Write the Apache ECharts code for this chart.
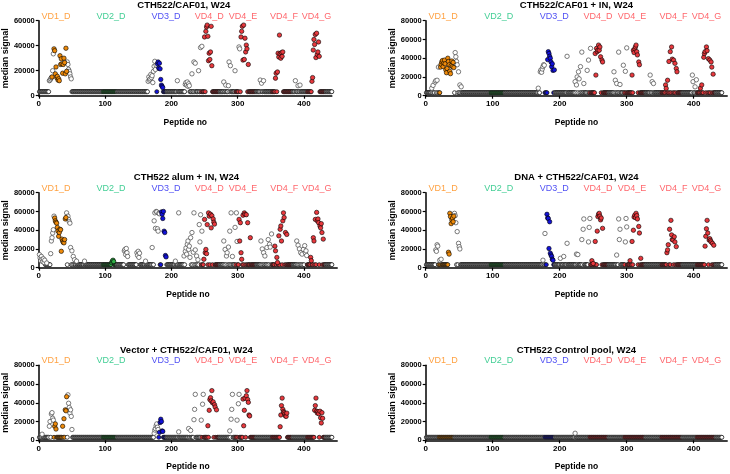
<!DOCTYPE html>
<html><head><meta charset="utf-8">
<script src="https://cdn.jsdelivr.net/npm/echarts/dist/echarts.min.js"></script>
<style>html,body{margin:0;padding:0;background:#fff}#c{width:730px;height:474px}</style>
</head><body><div id="c"></div>
<script>
// ---------- DATA ----------
const peptideCount = 442;
const baselineSignal = 3200;
const regionNames = ['VD1_D','VD2_D','VD3_D','VD4_D','VD4_E','VD4_F','VD4_G'];
const regionStart = [20, 97, 178, 245, 297, 352, 405];
const regionEnd   = [42, 117, 192, 272, 327, 382, 432];
const regionLabelX = [26, 109, 192, 257, 308, 370, 419];
const panelTitles = ['CTH522/CAF01, W24','CTH522/CAF01 + IN, W24','CTH522 alum + IN, W24','DNA + CTH522/CAF01, W24','Vector + CTH522/CAF01, W24','CTH522 Control pool, W24'];
const yMaxes = [60000, 80000, 80000, 80000, 80000, 80000];
const xMaxes = [442, 450, 450, 450, 450, 450];
const xTicks = [0, 100, 200, 300, 400];
const yTickStep = 20000;

const p1White = [[16,12000],[17,12500],[18,13500],[19,14500],[21,20000],[22,33500],[43,27000],[44,25000],[45,21000],[46,19500],[47,17500],[48,15000],[49,13500],
[165,11500],[166,15000],[167,12500],[168,13500],[169,17000],[170,14500],[171,16000],[172,10500],[173,19500],[174,23500],[175,27500],[176,21000],[177,24500],
[209,12000],[221,9000],[222,10500],[223,8500],[224,11000],[225,7500],[226,9500],[227,8000],
[231,17500],[234,27000],[236,26000],[241,20000],[244,38500],[246,39500],
[279,11000],[282,8500],[286,8000],[287,27000],[289,24000],[296,20000],[302,39000],[303,37500],
[334,12500],[336,10000],[339,12000],[387,12000],[391,8000],[394,8500]];
const p1Hit = [[20,15000],[23,37500],[24,36000],[25,17500],[26,23000],[27,14500],[28,15500],[29,12500],[30,13500],[31,12000],[32,32000],[33,25000],[34,29500],[35,25500],[36,18000],[37,25000],[38,30000],[39,26500],[40,17500],[41,38000],[42,19500],
[179,25500],[180,27000],[181,22000],[182,26000],[183,21500],[184,13000],[185,8500],[186,7500],[187,6500],
[250,47000],[252,51500],[253,55000],[254,56500],[255,47500],[256,28000],[257,34000],[258,29000],[259,35000],[260,55500],[261,24000],
[305,47000],[306,51500],[307,55500],[308,28500],[309,56500],[310,29000],[311,46000],[312,35000],[313,40500],[314,37500],[316,25000],
[357,14000],[358,18000],[360,19000],[361,34000],[362,31000],[363,48500],[364,33500],[365,30000],[366,34500],[367,31500],[368,35000],
[412,11500],[413,14500],[414,36500],[415,45000],[416,41000],[417,49000],[418,30500],[419,50000],[420,33000],[421,35000],[422,43000],[423,31500]];

const p2White = [[9,8000],[11,11000],[14,14500],[15,16000],[17,16500],[19,30500],[44,46000],[45,41500],[46,36500],[47,33000],[49,25500],[51,11500],[53,9500],
[168,8000],[171,25500],[172,27500],[173,25000],[174,28500],[175,31000],[176,33000],[177,32500],
[211,42000],[223,15000],[225,11500],[226,20000],[228,25500],[229,18000],[231,31000],[233,46500],[236,13000],[241,27000],[243,38000],[246,50500],
[281,25500],[283,16500],[285,13000],[288,46500],[290,12000],[295,32500],[298,26000],[300,51000],
[335,22000],[338,15000],[340,13000],[398,22000],[399,15000],[402,9500],[404,17000]];
const p2Hit = [[22,30500],[23,33500],[24,36000],[25,37500],[26,31000],[27,35000],[28,38000],[29,34000],[30,27500],[31,24500],[32,29000],[33,40000],[34,36500],[35,33000],[36,26000],[37,23500],[38,32000],[39,37000],[40,31000],[41,35500],[42,30000],
[182,38500],[183,47000],[184,45000],[185,42000],[186,40000],[187,36000],[188,31000],[189,34000],[190,27000],[192,27500],
[253,45000],[254,22000],[255,50500],[256,47000],[257,48500],[258,54000],[259,48500],[260,52000],[261,41500],[263,38000],[264,36000],
[308,22000],[310,48500],[311,46000],[312,50000],[313,52000],[314,54000],[315,47000],[316,43500],[318,36000],[319,33000],
[358,11500],[359,7800],[361,16500],[363,36500],[365,47000],[367,52000],[368,39000],[370,38000],[372,34500],[374,29000],[375,25500],
[410,8000],[412,11500],[415,41000],[416,45000],[417,47000],[419,52000],[420,48000],[422,39500],[424,38000],[426,36000],[427,30500],[429,23000]];

const p3White = [[1,14000],[2,10500],[3,7500],[4,12000],[5,9000],[6,6500],[7,9500],[8,5500],[9,8000],[12,5000],
[18,15000],[19,28500],[20,32000],[21,37000],[22,40500],[23,55000],
[42,58500],[44,55000],[45,51500],[46,49000],[47,47500],[48,21500],[50,18000],[52,12000],[54,8500],[57,7000],
[69,7000],[129,18000],[130,19500],[131,14000],[132,20500],[133,16000],[134,12000],
[148,16000],[149,13000],[150,17500],[151,11000],[152,15500],[161,7000],
[171,21500],[174,50000],[175,58500],[176,42000],[177,60000],[178,59500],[179,41500],[180,39000],[181,58000],[182,57500],
[206,7000],[211,58500],[219,12500],[221,17500],[222,21000],[223,14500],[224,25000],[225,28500],[226,19500],[227,23000],[228,11000],[229,32000],[231,37500],[233,16500],[234,58500],[236,19000],[238,12500],[240,8500],[242,46000],[243,27500],[244,56500],[246,39000],
[279,28500],[281,19500],[283,12500],[284,16000],[286,22000],[288,39000],[290,58500],[292,12000],[296,43000],[298,58500],[299,28000],
[335,28500],[337,20000],[339,16000],[341,12500],[344,21500],[346,30000],[348,25000],[349,22000],[351,36000],
[389,28500],[391,24000],[393,20000],[395,16000],[397,14500],[399,19500],[401,23500],[402,16000],[403,18000],[404,13000]];
const p3Hit = [[24,53000],[25,50000],[26,48500],[27,47500],[28,43000],[29,39000],[30,33500],[31,37500],[32,41000],[33,40500],[34,17500],[35,30500],[36,28500],[37,27000],[38,26500],[39,30000],[40,52000],[41,53500],
[110,5500],[111,7000],[112,8000],[113,6500],
[185,59500],[186,57000],[187,52500],[188,60000],[189,39000],[190,37500],[191,13000],[192,11500],
[249,9000],[250,51500],[251,16000],[252,19500],[253,15000],[254,46000],[256,58500],[257,55000],[259,57000],[260,42500],[261,55500],[263,52000],[264,48500],[265,46500],
[302,51500],[303,28500],[304,48000],[305,16000],[306,9000],[308,56000],[310,58500],[311,57000],[313,56500],[315,48000],[319,32000],
[356,23000],[357,18000],[359,11000],[360,5500],[362,34000],[364,41000],[365,44500],[366,28500],[368,50000],[369,58500],[370,53500],[372,37500],[374,35500],
[410,11000],[411,7500],[414,32000],[415,28500],[417,51500],[419,59000],[420,50000],[421,52000],[422,48000],[424,44500],[425,42500],[426,47000],[427,37500],[429,30500]];

const p4White = [[15,19000],[16,17500],[17,24500],[18,23000],[21,8000],[23,9000],
[43,58000],[44,55500],[45,48000],[47,38500],[49,26000],[50,22500],[51,20000],
[175,8000],[178,36500],
[201,10000],[206,12000],[211,26000],[225,14500],[227,14000],[233,30000],[235,41000],[236,52000],[243,27500],[244,43000],[245,52500],
[285,13500],[288,52000],[289,30000],[290,41000],[298,27500],[299,52500],[300,43500]];
const p4Hit = [[34,16500],[35,14500],[36,58000],[37,54500],[38,47000],[39,51000],[40,53000],[41,49000],[42,55000],
[181,57000],[182,53000],[183,52500],[184,20500],[185,49000],[186,15500],[187,13500],[188,12000],[189,9000],[190,8000],
[248,7500],[250,4500],[253,28000],[256,39000],[257,54500],[258,57000],[259,58000],[260,55000],[261,51000],[262,53000],[264,42000],
[305,7500],[308,28000],[310,40000],[311,54000],[312,56000],[313,53500],[314,58000],[315,55500],[316,52000],[318,44000],[319,37000],[321,10000],
[360,16000],[361,19000],[362,24500],[364,41000],[366,50500],[367,35000],[368,30000],[369,29500],[371,33000],[372,27500],[374,22500],
[417,23000],[418,33500],[419,41500],[420,50500],[421,37000],[423,29500],[424,31000],[425,29000],[426,27500],[428,26000],[430,24000]];

const p5White = [[5,6500],[16,15000],[17,20000],[19,28000],[20,29500],[21,23500],[22,21500],
[44,48500],[45,39500],[46,35000],[47,29000],[48,32500],[49,25500],[50,11500],
[174,7500],[175,11000],[176,12500],[177,15500],[178,17500],[179,14000],[180,11500],
[211,9000],[226,12500],[229,10500],[234,22000],[235,33000],[236,49000],[245,21500],[247,38500],[248,49000],
[288,10000],[290,22500],[291,33000],[292,49000],[299,21500],[301,39000],[302,49000]];
const p5Hit = [[24,15000],[25,17500],[26,12000],[36,15000],[38,23000],[40,32500],[41,31500],[42,46500],
[182,8500],[183,19000],[184,22500],[185,20000],[186,10000],[187,9500],
[255,15500],[257,32000],[258,43500],[259,45500],[260,42000],[261,53000],[262,40000],[263,41000],[265,38000],[266,35500],[268,32500],
[308,44000],[309,15500],[310,32000],[311,45000],[313,47500],[314,53000],[315,43500],[316,40500],[317,27000],[318,26000],
[364,14500],[365,27000],[366,37000],[367,45000],[368,33000],[369,30500],[370,29500],[371,28000],[372,26000],[373,25500],[374,29000],
[416,32000],[417,37000],[418,45000],[419,31000],[420,29000],[421,30500],[422,28500],[424,31000],[425,24000],[426,18500],[427,29500],[428,23500]];

const p6White = [[223,7500]];
const p6Hit = [];

const panelWhite = [p1White, p2White, p3White, p4White, p5White, p6White];
const panelHit = [p1Hit, p2Hit, p3Hit, p4Hit, p5Hit, p6Hit];

// ---------- STYLE / LAYOUT ----------
const regionFill = ['#EE8A0A', '#2FAE45', '#1212D8', '#E8383D', '#E8383D', '#E8383D', '#E8383D'];
const regionText = ['#FF8A12', '#14C27A', '#1C1CF0', '#FF3F46', '#FF3F46', '#FF3F46', '#FF3F46'];
const FONT = '"Liberation Sans", Arial, sans-serif';
const colLeft = [35.7, 425.7];
const rowTop = [20.7, 192.7, 365.3];
const plotH = 75;
const pxPerUnit = 0.67;
const dot = 4.4;

function regionOf(p) {
  for (let k = 0; k < regionStart.length; k++) if (p >= regionStart[k] && p <= regionEnd[k]) return k;
  return -1;
}

const grids = [], xAxes = [], yAxes = [], series = [], titles = [];
for (let i = 0; i < 6; i++) {
  const col = i % 2, row = Math.floor(i / 2);
  const left = colLeft[col], top = rowTop[row];
  const width = xMaxes[i] * pxPerUnit;
  grids.push({ left: left, top: top, width: width, height: plotH });
  titles.push({ text: panelTitles[i], left: left + width / 2, top: top - 20, textAlign: 'center', padding: 0,
    textStyle: { fontFamily: FONT, fontSize: 9.5, fontWeight: 'bold', color: '#000' } });
  xAxes.push({ gridIndex: i, type: 'value', min: 0, max: xMaxes[i], interval: 100,
    axisLine: { show: true, onZero: false, lineStyle: { color: '#000', width: 1.5 } },
    axisTick: { show: true, length: 3, customValues: xTicks, lineStyle: { color: '#000', width: 1.2 } },
    axisLabel: { customValues: xTicks, fontFamily: FONT, fontSize: 8, fontWeight: 'bold', color: '#000', margin: 4 },
    splitLine: { show: false },
    name: 'Peptide no', nameLocation: 'middle', nameGap: 22,
    nameTextStyle: { fontFamily: FONT, fontSize: 8.5, fontWeight: 'bold', color: '#000' } });
  yAxes.push({ gridIndex: i, type: 'value', min: 0, max: yMaxes[i], interval: yTickStep,
    axisLine: { show: true, onZero: false, lineStyle: { color: '#000', width: 1.5 } },
    axisTick: { show: true, length: 3, lineStyle: { color: '#000', width: 1.2 } },
    axisLabel: { formatter: v => String(v), fontFamily: FONT, fontSize: 7.5, fontWeight: 'bold', color: '#000', margin: 4 },
    splitLine: { show: false },
    name: 'median signal', nameLocation: 'middle', nameGap: 25,
    nameTextStyle: { fontFamily: FONT, fontSize: 9, fontWeight: 'bold', color: '#000' } });

  const used = new Set();
  panelWhite[i].forEach(d => used.add(d[0]));
  panelHit[i].forEach(d => used.add(d[0]));
  const base = [];
  for (let p = 1; p <= peptideCount; p++) {
    if (used.has(p)) continue;
    const r = regionOf(p);
    base.push({ value: [p, baselineSignal], itemStyle: { color: r < 0 ? '#fff' : regionFill[r] } });
  }
  const common = { type: 'scatter', xAxisIndex: i, yAxisIndex: i, symbolSize: dot, clip: false, silent: true, animation: false };
  series.push(Object.assign({}, common, { data: base, symbolSize: 4, itemStyle: { borderColor: '#1a1a1a', borderWidth: 0.8, opacity: 1 } }));
  series.push(Object.assign({}, common, { data: panelWhite[i].map(d => ({ value: d })),
    itemStyle: { color: '#fff', borderColor: '#444', borderWidth: 0.7, opacity: 1 } }));
  series.push(Object.assign({}, common, { data: panelHit[i].map(d => {
      const r = regionOf(d[0]);
      return { value: d, itemStyle: { color: r < 0 ? '#fff' : regionFill[r] } };
    }), itemStyle: { borderColor: '#000', borderWidth: 0.6, opacity: 1 } }));
  series.push({ type: 'scatter', xAxisIndex: i, yAxisIndex: i, symbolSize: 0.01, silent: true, animation: false, clip: false,
    data: regionLabelX.map((x, k) => ({ value: [x, yMaxes[i]], name: regionNames[k], label: { color: regionText[k] } })),
    label: { show: true, position: 'top', distance: 0, formatter: '{b}', fontFamily: FONT, fontSize: 9 } });
}

const chart = echarts.init(document.getElementById('c'), null, { renderer: 'canvas' });
chart.setOption({ backgroundColor: '#fff', animation: false, title: titles, grid: grids, xAxis: xAxes, yAxis: yAxes, series: series });
</script>
</body></html>
